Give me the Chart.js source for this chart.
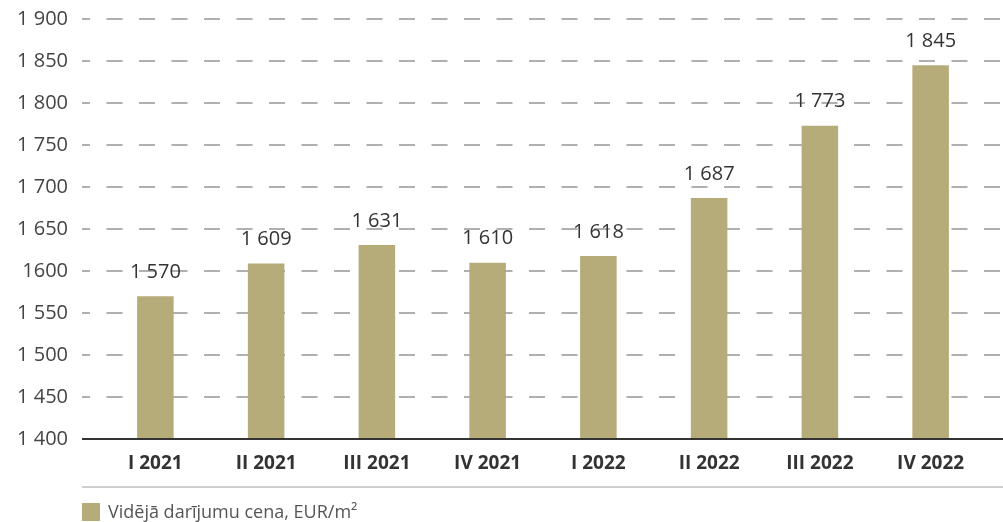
<!DOCTYPE html>
<html>
<head>
<meta charset="utf-8">
<script src="https://cdn.jsdelivr.net/npm/chart.js@4"></script>
<style>
  html, body { margin: 0; padding: 0; background: #fff; }
  #wrap { width: 1003px; height: 522px; }
</style>
</head>
<body>
<div id="wrap"><canvas id="myChart"></canvas></div>
<script>
// Vidējā darījumu cena
const quarters = ['I 2021', 'II 2021', 'III 2021', 'IV 2021', 'I 2022', 'II 2022', 'III 2022', 'IV 2022'];
const prices = [1570, 1609, 1631, 1610, 1618, 1687, 1773, 1845];
const tickValues = [1400, 1450, 1500, 1550, 1600, 1650, 1700, 1750, 1800, 1850, 1900];
const tickLabels = ['1 400', '1 450', '1 500', '1 550', '1600', '1 650', '1 700', '1 750', '1 800', '1 850', '1 900'];
const seriesName = 'Vidējā darījumu cena, EUR/m²';

const barColor = '#b6ac79';
const font = '"Open Sans", "Noto Sans", sans-serif';

// dashed grid + base lines, stretched past the chart area
const gridLines = {
    id: 'gridLines',
    beforeDatasetsDraw(chart) {
        const c = chart.ctx;
        const y = chart.scales.y;
        const x0 = chart.chartArea.left - 18;
        const x1 = chart.width;
        c.save();
        c.strokeStyle = '#b0b0b0';
        c.lineWidth = 2;
        c.setLineDash([16, 16.5]);
        c.lineDashOffset = 8;
        tickValues.forEach(v => {
            if (v === 1400) return;
            const py = Math.round(y.getPixelForValue(v));
            c.beginPath();
            c.moveTo(x0, py);
            c.lineTo(x1, py);
            c.stroke();
        });
        c.restore();
    },
    afterDatasetsDraw(chart) {
        const c = chart.ctx;
        const y = chart.scales.y;
        const x0 = chart.chartArea.left - 18;
        const x1 = chart.width;
        c.save();
        // base axis
        c.strokeStyle = '#333';
        c.lineWidth = 2;
        const by = Math.round(y.getPixelForValue(1400));
        c.beginPath();
        c.moveTo(x0, by);
        c.lineTo(x1, by);
        c.stroke();
        // separator above legend
        c.strokeStyle = '#cfcfcf';
        c.beginPath();
        c.moveTo(x0, 487);
        c.lineTo(x1, 487);
        c.stroke();
        // value labels
        c.fillStyle = '#333';
        c.font = '20px ' + font;
        c.textAlign = 'center';
        c.textBaseline = 'middle';
        chart.getDatasetMeta(0).data.forEach((bar, i) => {
            const txt = prices[i].toLocaleString('en-US').replace(',', ' ');
            c.fillText(txt, bar.x, bar.y - 24);
        });
        // legend
        c.fillStyle = barColor;
        c.fillRect(x0, 503, 18, 18);
        c.fillStyle = '#555';
        c.font = '18px ' + font;
        c.textAlign = 'left';
        c.fillText(seriesName, x0 + 26, 513);
        c.restore();
    }
};

new Chart(document.getElementById('myChart'), {
    type: 'bar',
    data: {
        labels: quarters,
        datasets: [{
            label: seriesName,
            data: prices,
            backgroundColor: barColor,
            categoryPercentage: 1,
            barPercentage: 0.33
        }]
    },
    options: {
        responsive: true,
        maintainAspectRatio: false,
        animation: false,
        layout: {
            padding: { top: 19, right: 17, bottom: 34, left: 0 }
        },
        plugins: {
            legend: { display: false },
            tooltip: { enabled: false }
        },
        scales: {
            x: {
                grid: { display: false, drawTicks: false },
                border: { display: false },
                ticks: {
                    color: '#333',
                    padding: 13,
                    font: { family: font, size: 19, weight: 'bold' }
                }
            },
            y: {
                min: 1400,
                max: 1900,
                grid: { display: false, drawTicks: true, tickLength: 27 },
                border: { display: false },
                afterFit(scale) {
                    scale.width = 100;
                },
                afterBuildTicks(scale) {
                    scale.ticks = tickValues.map(v => ({ value: v }));
                },
                ticks: {
                    color: '#444',
                    padding: 5,
                    font: { family: font, size: 20 },
                    callback: (v) => tickLabels[tickValues.indexOf(v)]
                }
            }
        }
    },
    plugins: [gridLines]
});
</script>
</body>
</html>
